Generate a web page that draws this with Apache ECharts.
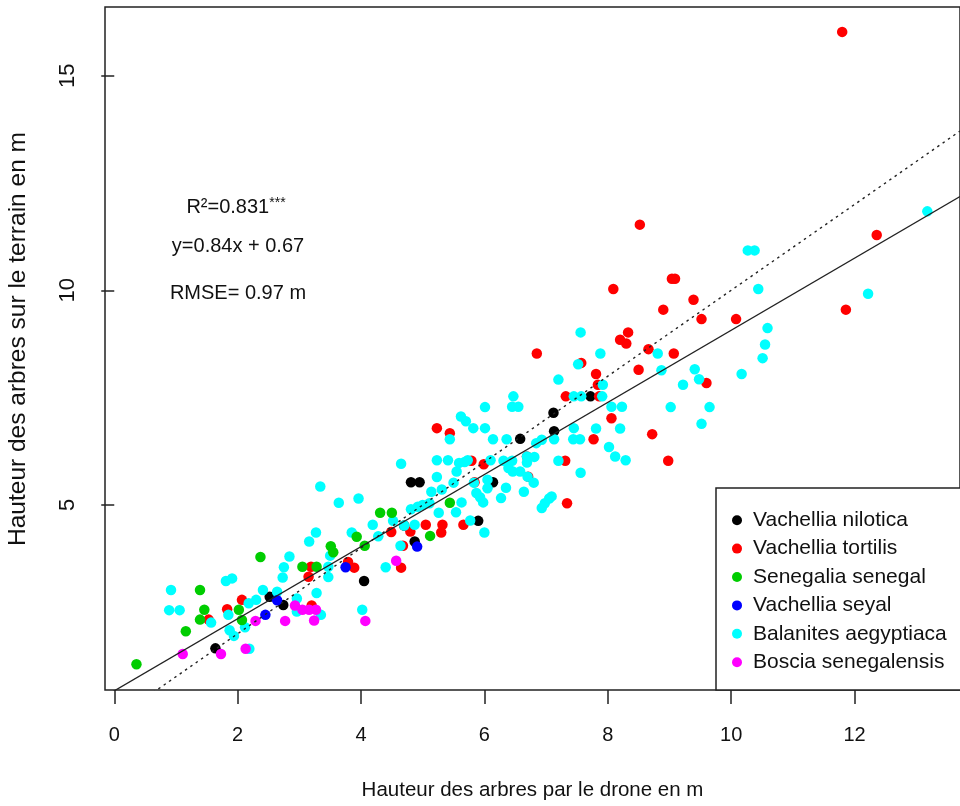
<!DOCTYPE html>
<html>
<head>
<meta charset="utf-8">
<script src="https://cdn.jsdelivr.net/npm/echarts@6/dist/echarts.min.js"></script>
<style>html,body{margin:0;padding:0;background:#fff;}#c{width:960px;height:806px;}</style>
</head>
<body>
<div id="c"></div>
<script>
// ---- data (x = drone height, y = field height, metres) ----
const speciesNames = ['Vachellia nilotica','Vachellia tortilis','Senegalia senegal','Vachellia seyal','Balanites aegyptiaca','Boscia senegalensis'];
const speciesColors = ['#000000','#FF0000','#00CD00','#0000FF','#00FFFF','#FF00FF'];

const nilotica = [[1.64,1.66],[2.52,2.86],[2.74,2.67],[4.05,3.23],[4.70,4.52],[4.87,4.15],[4.81,5.53],[4.95,5.53],[5.90,4.63],[6.14,5.53],[6.58,6.54],[7.12,7.15],[7.13,6.72],[7.72,7.53]];

const tortilis = [[1.53,2.33],[1.83,2.57],[2.07,2.79],[3.20,2.66],[3.15,3.33],[3.19,3.56],[3.79,3.67],[3.89,3.54],[4.49,4.37],[4.65,3.54],[4.68,4.05],[4.80,4.38],[5.05,4.54],[5.30,4.36],[5.32,4.54],[5.66,4.54],[5.23,6.79],[5.44,6.67],[5.79,6.03],[5.84,5.53],[5.99,5.95],[6.69,6.13],[6.71,5.66],[6.85,8.53],[7.31,6.03],[7.34,5.04],[7.32,7.53],[7.57,8.31],[7.77,6.53],[7.81,8.05],[7.84,7.80],[7.86,7.53],[8.06,7.02],[8.09,10.03],[8.20,8.85],[8.30,8.76],[8.33,9.02],[8.50,8.15],[8.52,11.53],[8.66,8.63],[8.72,6.65],[8.90,9.55],[8.98,6.03],[9.04,10.27],[9.09,10.27],[9.07,8.53],[9.39,9.78],[9.52,9.33],[9.60,7.84],[10.08,9.33],[11.80,16.02],[11.86,9.55],[12.36,11.29]];

const senegal = [[0.36,1.29],[1.16,2.06],[1.39,3.02],[1.46,2.56],[1.39,2.33],[2.02,2.56],[2.07,2.32],[2.37,3.79],[3.05,3.56],[3.28,3.56],[3.51,4.04],[3.55,3.90],[3.93,4.26],[4.06,4.05],[4.31,4.82],[4.50,4.82],[5.12,4.28],[5.44,5.05]];

const seyal = [[2.45,2.44],[2.64,2.78],[3.75,3.55],[4.91,4.03]];

const balanites = [[0.92,3.02],[0.89,2.55],[1.06,2.55],[1.57,2.26],[1.81,3.23],[1.91,3.29],[1.85,2.44],[1.87,2.08],[1.94,1.95],[2.12,2.15],[2.19,1.65],[2.18,2.71],[2.30,2.79],[2.41,3.02],[2.64,2.98],[2.73,3.31],[2.75,3.55],[2.84,3.80],[2.96,2.82],[2.96,2.52],[3.28,2.95],[3.35,2.44],[3.16,4.15],[3.27,4.36],[3.34,5.43],[3.47,3.56],[3.47,3.32],[3.50,3.82],[3.64,5.05],[3.85,4.36],[3.96,5.15],[4.02,2.56],[4.19,4.54],[4.28,4.27],[4.40,3.55],[4.52,4.63],[4.64,4.05],[4.65,5.96],[4.70,4.52],[4.81,4.90],[4.87,4.54],[4.92,4.96],[5.00,5.00],[5.11,5.04],[5.14,5.31],[5.23,6.04],[5.23,5.65],[5.26,4.82],[5.31,5.36],[5.41,6.04],[5.44,6.53],[5.50,5.52],[5.54,4.83],[5.55,5.78],[5.59,5.98],[5.62,7.06],[5.63,5.06],[5.68,6.00],[5.70,6.95],[5.73,6.04],[5.77,4.64],[5.82,6.79],[5.83,5.52],[5.87,5.28],[5.93,5.18],[5.98,5.06],[6.00,4.36],[6.01,7.28],[6.01,6.79],[6.05,5.59],[6.05,5.39],[6.10,6.04],[6.14,6.53],[6.27,5.16],[6.35,5.40],[6.36,6.53],[6.39,5.86],[6.45,6.03],[6.31,6.03],[6.46,5.78],[6.58,5.78],[6.47,7.53],[6.45,7.29],[6.55,7.29],[6.64,5.31],[6.69,6.13],[6.69,5.99],[6.70,5.66],[6.80,5.52],[6.81,6.12],[6.84,6.44],[6.93,6.52],[6.93,4.93],[6.98,5.04],[7.05,5.15],[7.09,5.20],[7.13,6.53],[7.20,6.03],[7.20,7.92],[7.44,6.53],[7.45,6.79],[7.45,7.53],[7.52,8.28],[7.55,6.53],[7.56,9.02],[7.56,5.75],[7.57,7.53],[7.81,6.78],[7.88,8.53],[7.91,7.53],[7.92,7.80],[8.02,6.35],[8.06,7.29],[8.12,6.13],[8.20,6.78],[8.23,7.29],[8.29,6.04],[8.81,8.53],[8.87,8.14],[9.02,7.28],[9.22,7.80],[9.41,8.16],[9.48,7.93],[9.52,6.89],[9.65,7.28],[10.17,8.05],[10.27,10.93],[10.38,10.93],[10.44,10.03],[10.51,8.42],[10.55,8.74],[10.59,9.12],[12.22,9.92],[13.18,11.84]];

const boscia = [[1.11,1.53],[1.73,1.53],[2.13,1.65],[2.29,2.30],[2.77,2.30],[2.93,2.66],[3.05,2.56],[3.16,2.56],[3.27,2.56],[3.24,2.31],[4.07,2.30],[4.57,3.70]];

const xTicks = [0,2,4,6,8,10,12];
const yTicks = [5,10,15];
const fitSlope = 0.84, fitIntercept = 0.67;
const statLines = ['R²=0.831', '***', 'y=0.84x + 0.67', 'RMSE= 0.97 m'];
const xTitle = 'Hauteur des arbres par le drone en m';
const yTitle = 'Hauteur des arbres sur le terrain en m';

// ---- chart ----
const xMin = -0.15, xMax = 13.71, yMin = 0.69, yMax = 16.6;
const fitLine = [[xMin, fitSlope*xMin + fitIntercept],[xMax, fitSlope*xMax + fitIntercept]];
const oneToOne = [[xMin, xMin],[xMax, xMax]];
const FONT = 'Liberation Sans, Arial, sans-serif';
const INK = '#222';

const groups = [nilotica, tortilis, senegal, seyal, balanites, boscia];
const drawOrder = [0,1,4,2,3,5];
const scatterSeries = drawOrder.map(i => ({
  name: speciesNames[i], type: 'scatter', data: groups[i],
  symbol: 'circle', symbolSize: 10.5,
  itemStyle: { color: speciesColors[i], opacity: 1 },
  emphasis: { disabled: true }, z: 2
}));

const chart = echarts.init(document.getElementById('c'), null, { renderer: 'canvas' });
chart.setOption({
  animation: false,
  backgroundColor: '#fff',
  grid: { left: 105, top: 7, width: 861, height: 683, show: true, borderColor: INK, borderWidth: 1.5, backgroundColor: 'transparent' },
  xAxis: {
    type: 'value', min: xMin, max: xMax,
    axisLine: { show: false },
    splitLine: { show: false },
    axisTick: { show: true, length: 14, lineStyle: { color: INK, width: 1.5 }, customValues: xTicks },
    axisLabel: { show: true, customValues: xTicks, fontFamily: FONT, fontSize: 20, lineHeight: 20, color: '#111', margin: 35 },
    name: xTitle, nameLocation: 'middle', nameGap: 90,
    nameTextStyle: { fontFamily: FONT, fontSize: 20.5, color: '#111' }
  },
  yAxis: {
    type: 'value', min: yMin, max: yMax,
    axisLine: { show: false },
    splitLine: { show: false },
    axisTick: { show: true, length: 13, lineStyle: { color: INK, width: 1.5 }, customValues: yTicks },
    axisLabel: { show: true, customValues: yTicks, rotate: 90, fontFamily: FONT, fontSize: 22, lineHeight: 22, color: '#111', margin: 26 }
  },
  legend: {
    orient: 'vertical', left: 732, top: 506, padding: 0, itemGap: 0,
    data: speciesNames, icon: 'circle', itemWidth: 22, itemHeight: 10,
    textStyle: { fontFamily: FONT, fontSize: 21, lineHeight: 28.4, color: '#111' },
    selectedMode: false, z: 20
  },
  graphic: [
    { type: 'rect', z: 10, shape: { x: 716, y: 488, width: 260, height: 202 }, style: { fill: '#fff', stroke: INK, lineWidth: 1.5 } },
    { type: 'text', z: 10, x: 236, y: 207, style: { text: '{a|' + statLines[0] + '}{s|' + statLines[1] + '}', rich: { a: { fontFamily: FONT, fontSize: 20, fill: '#111' }, s: { fontFamily: FONT, fontSize: 14, fill: '#111', verticalAlign: 'top', padding: [0,0,8,0] } }, align: 'center', verticalAlign: 'middle' } },
    { type: 'text', z: 10, x: 238, y: 246, style: { text: statLines[2], fontFamily: FONT, fontSize: 20, fill: '#111', align: 'center', verticalAlign: 'middle' } },
    { type: 'text', z: 10, x: 238, y: 293, style: { text: statLines[3], fontFamily: FONT, fontSize: 20, fill: '#111', align: 'center', verticalAlign: 'middle' } },
    { type: 'text', z: 10, x: 18, y: 339, rotation: Math.PI/2, style: { text: yTitle, fontFamily: FONT, fontSize: 24.5, fill: '#111', align: 'center', verticalAlign: 'middle' } }
  ],
  series: [
    { type: 'line', data: oneToOne, symbol: 'none', silent: true, clip: true, z: 3,
      lineStyle: { color: INK, width: 1.4, type: [2.5, 4] } },
    { type: 'line', data: fitLine, symbol: 'none', silent: true, clip: true, z: 3,
      lineStyle: { color: INK, width: 1.3, type: 'solid' } }
  ].concat(scatterSeries)
});
</script>
</body>
</html>
